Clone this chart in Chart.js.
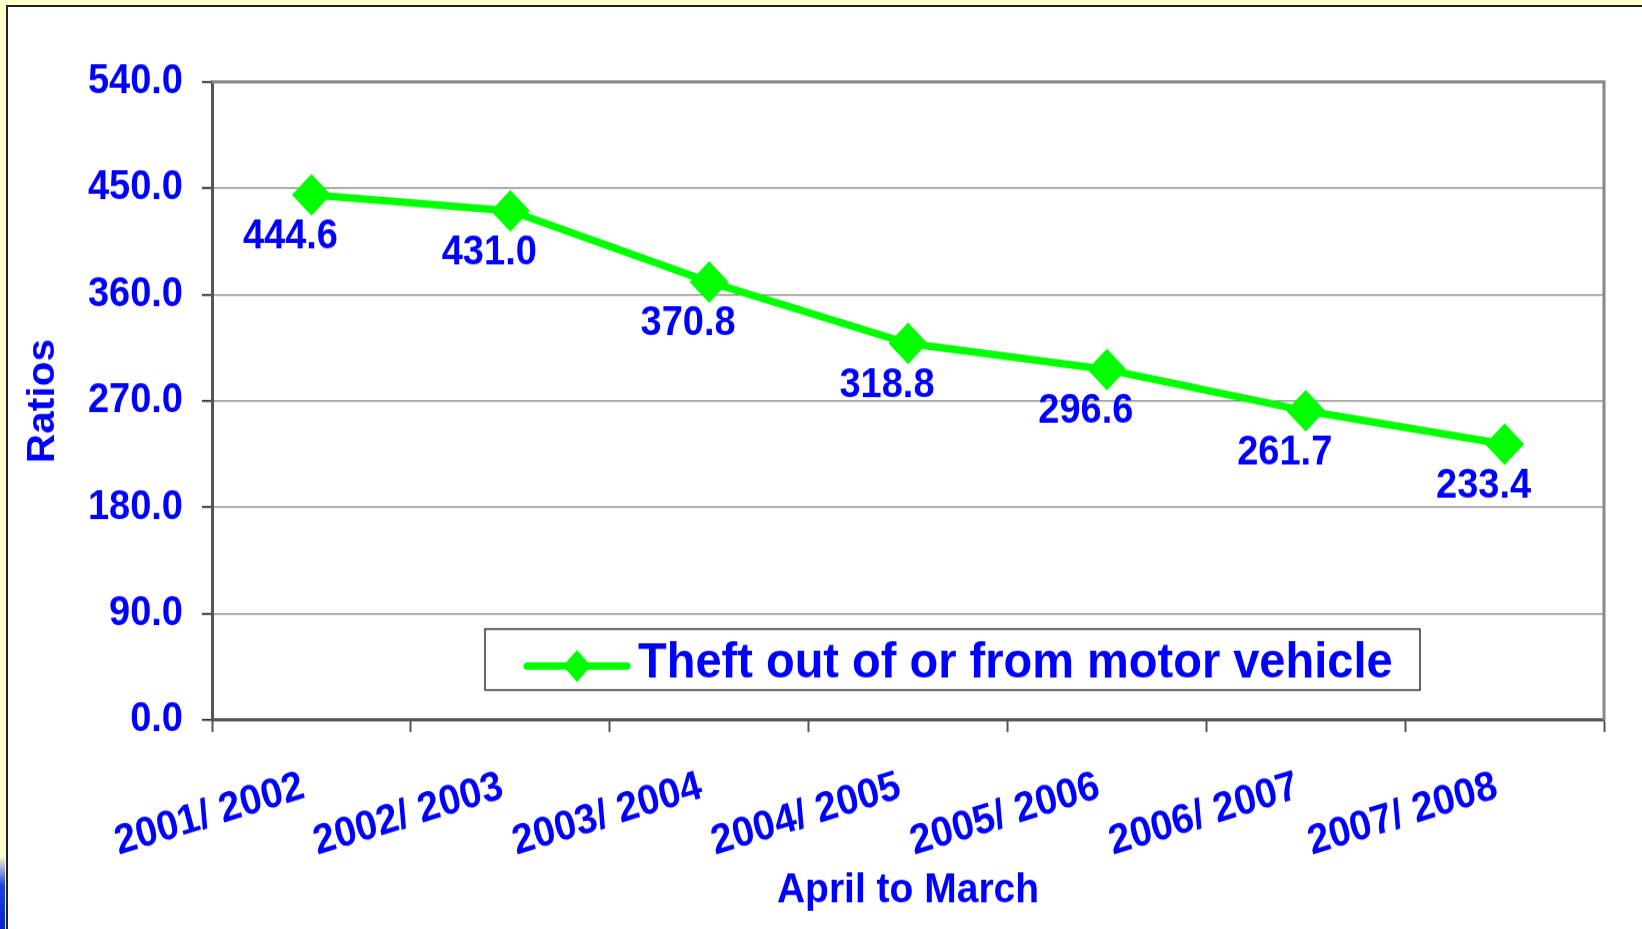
<!DOCTYPE html>
<html>
<head>
<meta charset="utf-8">
<script src="https://cdn.jsdelivr.net/npm/chart.js@4"></script>
<style>
  html, body { margin: 0; padding: 0; background: #ffffcc; overflow: hidden; }
  #wrap { position: relative; width: 1642px; height: 929px; background: #ffffcc; overflow: hidden; }
  #panel { position: absolute; left: 6px; top: 5px; width: 1660px; height: 960px; background: #ffffff; border-left: 2px solid #222; border-top: 2px solid #222; }
  #deco { position: absolute; left: 0; top: 856px; width: 5px; height: 73px; background: linear-gradient(to bottom, #ffffcc, #2244dd 40%, #0022cc); }
  canvas { position: absolute; left: 0; top: 0; }
</style>
</head>
<body>
<div id="wrap">
  <div id="panel"></div>
  <div id="deco"></div>
  <canvas id="c" width="1642" height="868" style="width:1642px;height:929px;"></canvas>
</div>
<script>
// ---- data ----
const categories = ["2001/ 2002", "2002/ 2003", "2003/ 2004", "2004/ 2005", "2005/ 2006", "2006/ 2007", "2007/ 2008"];
const seriesName = "Theft out of or from motor vehicle";
const seriesValues = [444.6, 431.0, 370.8, 318.8, 296.6, 261.7, 233.4];
const yTickValues = [0, 90, 180, 270, 360, 450, 540];
const xAxisTitle = "April to March";
const yAxisTitle = "Ratios";

const FONT = "'Liberation Sans', Arial, sans-serif";
const BLUE = "#0000ff";
const GREEN = "#00ff00";

// the original picture is slightly stretched vertically; the canvas is drawn at
// a reduced height and stretched back by CSS
const H = 868;
const S = 929 / H;
const sy = v => v / S;

const dataLabels = {
  id: 'dataLabels',
  afterDatasetsDraw(chart) {
    const ctx = chart.ctx;
    const meta = chart.getDatasetMeta(0);
    const ds = chart.data.datasets[0];
    ctx.save();
    ctx.font = "bold 38px " + FONT;
    ctx.fillStyle = BLUE;
    ctx.textAlign = 'center';
    ctx.textBaseline = 'middle';
    meta.data.forEach((pt, i) => {
      ctx.fillText(Number(ds.data[i]).toFixed(1), pt.x - 21, pt.y + sy(42));
    });
    ctx.restore();
  }
};

const frame = {
  id: 'frame',
  beforeDatasetsDraw(chart) {
    const {ctx, chartArea: a} = chart;
    ctx.save();
    ctx.strokeStyle = '#888888';
    ctx.lineWidth = 3;
    ctx.beginPath();
    ctx.moveTo(a.left, a.top);
    ctx.lineTo(a.right, a.top);
    ctx.lineTo(a.right, a.bottom);
    ctx.stroke();
    ctx.restore();
  }
};

const boxLegend = {
  id: 'boxLegend',
  afterDraw(chart) {
    const ctx = chart.ctx;
    const ds = chart.data.datasets[0];
    const x0 = 485, y0 = sy(629), w = 935, h = sy(61);
    ctx.save();
    ctx.fillStyle = '#ffffff';
    ctx.fillRect(x0, y0, w, h);
    ctx.strokeStyle = '#333333';
    ctx.lineWidth = 1.5;
    ctx.strokeRect(x0, y0, w, h);
    const ly = sy(666);
    ctx.strokeStyle = ds.borderColor;
    ctx.lineWidth = 7;
    ctx.lineCap = 'round';
    ctx.beginPath();
    ctx.moveTo(527, ly);
    ctx.lineTo(627, ly);
    ctx.stroke();
    ctx.fillStyle = ds.pointBackgroundColor;
    ctx.beginPath();
    ctx.moveTo(577 - 14, ly);
    ctx.lineTo(577, ly - sy(16));
    ctx.lineTo(577 + 14, ly);
    ctx.lineTo(577, ly + sy(16));
    ctx.closePath();
    ctx.fill();
    ctx.fillStyle = BLUE;
    ctx.font = "bold 47px " + FONT;
    ctx.textAlign = 'left';
    ctx.textBaseline = 'alphabetic';
    ctx.fillText(ds.label, 638, sy(678));
    ctx.restore();
  }
};

new Chart(document.getElementById('c'), {
  type: 'line',
  data: {
    labels: categories,
    datasets: [{
      label: seriesName,
      data: seriesValues,
      borderColor: GREEN,
      backgroundColor: GREEN,
      pointBackgroundColor: GREEN,
      pointBorderColor: GREEN,
      borderWidth: 7,
      pointStyle: 'rectRot',
      pointRadius: 19.5,
      pointBorderWidth: 0,
      tension: 0,
      fill: false
    }]
  },
  options: {
    responsive: false,
    animation: false,
    devicePixelRatio: 1,
    layout: { padding: { left: 0, top: sy(82), right: 38, bottom: 0 } },
    plugins: {
      legend: { display: false },
      tooltip: { enabled: false }
    },
    scales: {
      x: {
        type: 'category',
        offset: true,
        grid: { offset: true, drawOnChartArea: false, drawTicks: true, tickLength: sy(12), tickColor: '#555555', tickWidth: 2 },
        border: { display: true, color: '#555555', width: 3 },
        ticks: {
          color: BLUE,
          font: { family: FONT, size: 39, weight: 'bold' },
          minRotation: 16, maxRotation: 16,
          padding: sy(30),
          labelOffset: -8,
          autoSkip: false
        },
        title: {
          display: true, text: xAxisTitle, color: BLUE,
          font: { family: FONT, size: 39, weight: 'bold' },
          padding: { top: 0, bottom: 12 }
        },
        afterFit(scale) { scale.height = H - sy(720); }
      },
      y: {
        min: 0, max: 540,
        afterBuildTicks(scale) { scale.ticks = yTickValues.map(v => ({ value: v })); },
        grid: { color: '#808080', lineWidth: 1.2, tickLength: 10, tickColor: '#000000', tickWidth: 1.5 },
        border: { display: true, color: '#555555', width: 3 },
        ticks: {
          color: BLUE,
          font: { family: FONT, size: 38, weight: 'bold' },
          padding: 19,
          callback: v => Number(v).toFixed(1)
        },
        title: {
          display: true, text: yAxisTitle, color: BLUE,
          font: { family: FONT, size: 38, weight: 'bold' },
          padding: { top: 21, bottom: 0 }
        },
        afterFit(scale) { scale.width = 212; }
      }
    }
  },
  plugins: [frame, dataLabels, boxLegend]
});
</script>
</body>
</html>
